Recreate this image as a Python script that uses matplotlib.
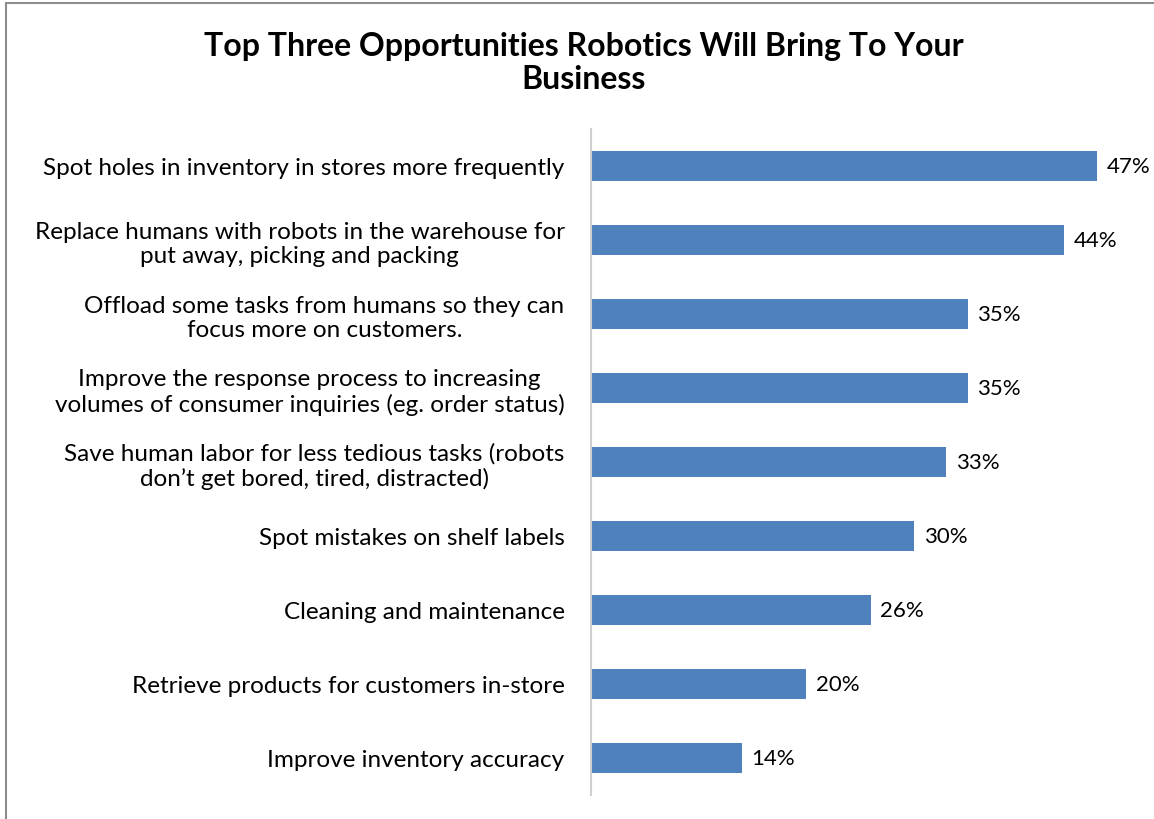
import matplotlib.pyplot as plt
from matplotlib.patches import Rectangle

plt.rcParams['font.family'] = ['Lato', 'DejaVu Sans']

# Данные опроса (сверху вниз)
labels = [
    'Spot holes in inventory in stores more frequently',
    'Replace humans with robots in the warehouse for\nput away, picking and packing',
    'Offload some tasks from humans so they can\nfocus more on customers.',
    'Improve the response process to increasing\nvolumes of consumer inquiries (eg. order status)',
    'Save human labor for less tedious tasks (robots\ndon\u2019t get bored, tired, distracted)',
    'Spot mistakes on shelf labels',
    'Cleaning and maintenance',
    'Retrieve products for customers in-store',
    'Improve inventory accuracy',
]
values = [47, 44, 35, 35, 33, 30, 26, 20, 14]

fig = plt.figure(figsize=(11.54, 8.2), dpi=100)

# Рамка вокруг диаграммы
frame = Rectangle((6 / 1154, -0.05), 1.2, 1 - 4 / 820 + 0.05, transform=fig.transFigure,
                  fill=False, edgecolor='#8c8c8c', linewidth=1.5)
fig.patches.append(frame)

ax = fig.add_axes([591 / 1154, 24 / 820, 538 / 1154, 666 / 820])

pos = list(range(len(values)))
ax.barh(pos, values, height=0.41, color='#4F81BD')
ax.set_ylim(len(values) - 0.5, -0.5)
ax.set_xlim(0, 50)

for y, v in zip(pos, values):
    ax.annotate(f'{v}%', (v, y), xytext=(7, 0), textcoords='offset points',
                va='center', ha='left', fontsize=16)

ax.set_xticks([])
ax.set_yticks(pos)
ax.set_yticklabels(labels, fontsize=17.5, linespacing=1.2)
for t in ax.get_yticklabels():
    t.set_multialignment('center')
ax.tick_params(axis='y', length=0, pad=19)

for side in ['top', 'right', 'bottom']:
    ax.spines[side].set_visible(False)
ax.spines['left'].set_color('#d0d0d0')
ax.spines['left'].set_linewidth(1.5)

fig.text(584 / 1154, 1 - 63 / 820,
         'Top Three Opportunities Robotics Will Bring To Your\nBusiness',
         ha='center', va='center', fontsize=23, fontweight='bold', linespacing=1.2)

fig.savefig('out.png', dpi=100)
